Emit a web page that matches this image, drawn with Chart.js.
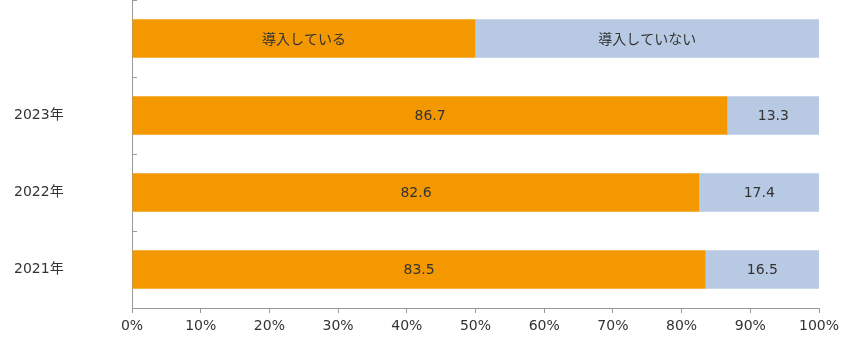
<!DOCTYPE html>
<html>
<head>
<meta charset="utf-8">
<script src="https://cdn.jsdelivr.net/npm/chart.js@4"></script>
<style>
html,body{margin:0;padding:0;background:#fff;overflow:hidden;}
canvas{display:block;}
</style>
</head>
<body>
<canvas id="c" width="850" height="341"></canvas>
<script>
const categories = ["", "2023年", "2022年", "2021年"];
const seriesNames = ["導入している", "導入していない"];
const introduced = [50, 86.7, 82.6, 83.5];
const notIntroduced = [50, 13.3, 17.4, 16.5];
const xTicks = [0,10,20,30,40,50,60,70,80,90,100];

const FONT = '"DejaVu Sans", "Noto Sans CJK JP", sans-serif';
const JFONT = '"Noto Sans CJK JP", sans-serif';
const TEXT = '#333333';
const AXIS = '#9a9a9a';

const labelPlugin = {
  id: 'barLabels',
  afterDatasetsDraw(chart) {
    const ctx = chart.ctx;
    ctx.save();
    ctx.fillStyle = TEXT;
    ctx.textAlign = 'center';
    ctx.textBaseline = 'middle';
    chart.data.datasets.forEach((ds, di) => {
      const meta = chart.getDatasetMeta(di);
      meta.data.forEach((el, i) => {
        const cx = (el.x + el.base) / 2;
        if (i === 0) {
          ctx.font = '14px ' + JFONT;
          ctx.fillText(ds.label, cx, el.y);
        } else {
          ctx.font = '14px ' + FONT;
          ctx.fillText(ds.data[i].toFixed(1), cx, el.y + 1);
        }
      });
    });
    ctx.restore();
  }
};

const innerTicks = {
  id: 'innerTicks',
  afterDraw(chart) {
    const ctx = chart.ctx;
    const a = chart.chartArea;
    const n = chart.data.labels.length;
    const step = (a.bottom - a.top) / n;
    ctx.save();
    ctx.strokeStyle = AXIS;
    ctx.lineWidth = 1;
    for (let i = 0; i < n; i++) {
      const y = Math.round(a.top + i * step) + 0.5;
      ctx.beginPath();
      ctx.moveTo(a.left, y);
      ctx.lineTo(a.left + 5, y);
      ctx.stroke();
    }
    ctx.restore();
  }
};

new Chart(document.getElementById('c'), {
  type: 'bar',
  data: {
    labels: categories,
    datasets: [
      { label: seriesNames[0], data: introduced, backgroundColor: '#F39800', categoryPercentage: 1, barPercentage: 0.5 },
      { label: seriesNames[1], data: notIntroduced, backgroundColor: '#B8CAE3', categoryPercentage: 1, barPercentage: 0.5 }
    ]
  },
  options: {
    indexAxis: 'y',
    responsive: false,
    animation: false,
    devicePixelRatio: 1,
    layout: { padding: { top: 0, right: 31, left: 14, bottom: 0 } },
    plugins: { legend: { display: false }, tooltip: { enabled: false } },
    scales: {
      x: {
        stacked: true,
        min: 0, max: 100,
        afterBuildTicks(axis) { axis.ticks = xTicks.map(v => ({ value: v })); },
        grid: { display: true, drawOnChartArea: false, drawTicks: true, tickLength: 5, color: AXIS },
        border: { display: true, color: AXIS },
        ticks: { callback: v => v + '%', color: TEXT, font: { size: 14, family: FONT }, padding: 5, maxRotation: 0 },
        afterFit(axis) { axis.height = 33; }
      },
      y: {
        stacked: true,
        grid: { display: false, drawTicks: false },
        border: { display: true, color: AXIS },
        ticks: { color: TEXT, font: { size: 14, family: FONT }, padding: 0, crossAlign: 'far' },
        afterFit(axis) { axis.width = 118; axis.paddingTop = 0; axis.paddingBottom = 0; }
      }
    }
  },
  plugins: [labelPlugin, innerTicks]
});
</script>
</body>
</html>
